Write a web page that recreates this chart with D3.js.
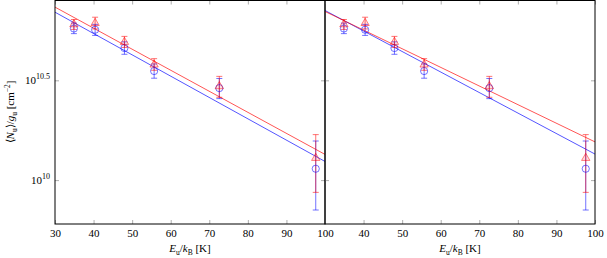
<!DOCTYPE html>
<html>
<head>
<meta charset="utf-8">
<script src="https://cdn.jsdelivr.net/npm/d3@7"></script>
<style>
  body { margin: 0; background: #fff; }
  svg { display: block; }
</style>
</head>
<body>
<svg id="chart"></svg>
<script>
// energies of the upper levels (K)
const energies = [34.9, 40.4, 48.0, 55.7, 72.6, 97.6];

// blue series (circles): value, lower bound, upper bound
const blueVals = [5.75e10, 5.67e10, 4.59e10, 3.52e10, 2.89e10, 1.14e10];
const blueLow  = [5.42e10, 5.31e10, 4.27e10, 3.24e10, 2.56e10, 7.08e9];
const blueHigh = [6.12e10, 6.03e10, 4.93e10, 3.82e10, 3.23e10, 1.57e10];

// red series (triangles)
const redVals = [6.03e10, 6.12e10, 4.92e10, 3.79e10, 2.95e10, 1.29e10];
const redLow  = [5.69e10, 5.72e10, 4.62e10, 3.55e10, 2.60e10, 8.68e9];
const redHigh = [6.38e10, 6.55e10, 5.25e10, 4.06e10, 3.31e10, 1.69e10];

// fitted lines, [energy, value] at both ends of each panel
const fitLeftRed   = [[30, 7.36e10], [100, 1.345e10]];
const fitLeftBlue  = [[30, 6.94e10], [100, 1.24e10]];
const fitRightRed  = [[30, 7.00e10], [100, 1.554e10]];
const fitRightBlue = [[30, 7.08e10], [100, 1.35e10]];

const xTicks = [30, 40, 50, 60, 70, 80, 90, 100];
const yTicks = [{ v: 1e10, exp: "10" }, { v: Math.pow(10, 10.5), exp: "10.5" }];

const width = 607, height = 258;
const plotTop = 0.5, plotBottom = 224;
const blue = "#0000ff", red = "#ff0000";
const serif = "Liberation Serif";

const svg = d3.select("#chart")
    .attr("width", width).attr("height", height)
    .attr("font-family", serif);

const y = d3.scaleLog()
    .domain([Math.pow(10, 9.78), Math.pow(10, 10.9)])
    .range([plotBottom, plotTop]);

function drawPanel(x0, x1, fitRed, fitBlue, showYLabels, id) {
    const x = d3.scaleLinear().domain([30, 100]).range([x0, x1]);
    const g = svg.append("g");

    svg.append("defs").append("clipPath").attr("id", "clip" + id)
        .append("rect")
        .attr("x", x0).attr("y", plotTop)
        .attr("width", x1 - x0).attr("height", plotBottom - plotTop);

    // the right panel leaves out its first label, it would sit on the "100" of the left one
    const fmt = d => (!showYLabels && d === 30) ? "" : d3.format("d")(d);

    // ticks (inward, bottom and top)
    const xb = g.append("g")
        .attr("transform", "translate(0," + plotBottom + ")")
        .call(d3.axisBottom(x).tickValues(xTicks).tickSize(-4).tickPadding(5).tickFormat(fmt));
    const xt = g.append("g")
        .attr("transform", "translate(0," + plotTop + ")")
        .call(d3.axisTop(x).tickValues(xTicks).tickSize(-4).tickFormat(""));
    const yl = g.append("g")
        .attr("transform", "translate(" + x0 + ",0)")
        .call(d3.axisLeft(y).tickValues(yTicks.map(d => d.v)).tickSize(-4).tickFormat(""));
    const yr = g.append("g")
        .attr("transform", "translate(" + x1 + ",0)")
        .call(d3.axisRight(y).tickValues(yTicks.map(d => d.v)).tickSize(-4).tickFormat(""));
    [xb, xt, yl, yr].forEach(a => {
        a.attr("font-family", serif);
        a.select(".domain").remove();
        a.selectAll(".tick line").attr("stroke", "#999").attr("stroke-width", 0.8);
    });
    xb.selectAll(".tick text")
        .attr("font-family", serif)
        .attr("font-size", 11).attr("fill", "#000");

    if (showYLabels) {
        yTicks.forEach(t => {
            const txt = g.append("text")
                .attr("x", x0 - 5).attr("y", y(t.v) + 4)
                .attr("text-anchor", "end")
                .attr("font-family", serif)
                .attr("font-size", 11);
            txt.append("tspan").text("10");
            txt.append("tspan").attr("font-size", 8).attr("dy", -5).text(t.exp);
        });
    }

    const plot = g.append("g").attr("clip-path", "url(#clip" + id + ")");
    const line = d3.line().x(d => x(d[0])).y(d => y(d[1]));

    plot.append("path").datum(fitBlue).attr("d", line)
        .attr("fill", "none").attr("stroke", blue).attr("stroke-width", 0.9).attr("stroke-opacity", 0.75);
    plot.append("path").datum(fitRed).attr("d", line)
        .attr("fill", "none").attr("stroke", red).attr("stroke-width", 0.9).attr("stroke-opacity", 0.75);

    function errorBars(lo, hi, color) {
        const eg = plot.append("g").attr("stroke", color).attr("stroke-opacity", 0.55).attr("stroke-width", 1);
        energies.forEach((e, i) => {
            const cx = x(e);
            eg.append("line").attr("x1", cx).attr("x2", cx).attr("y1", y(lo[i])).attr("y2", y(hi[i]));
            eg.append("line").attr("x1", cx - 3).attr("x2", cx + 3).attr("y1", y(lo[i])).attr("y2", y(lo[i]));
            eg.append("line").attr("x1", cx - 3).attr("x2", cx + 3).attr("y1", y(hi[i])).attr("y2", y(hi[i]));
        });
    }
    errorBars(blueLow, blueHigh, blue);
    errorBars(redLow, redHigh, red);

    plot.selectAll(".circ").data(energies).join("circle")
        .attr("cx", d => x(d)).attr("cy", (d, i) => y(blueVals[i]))
        .attr("r", 3.6)
        .attr("fill", "none").attr("stroke", blue).attr("stroke-opacity", 0.6).attr("stroke-width", 0.9);

    const tri = d3.symbol().type(d3.symbolTriangle).size(30);
    plot.selectAll(".tri").data(energies).join("path")
        .attr("d", tri)
        .attr("transform", (d, i) => "translate(" + x(d) + "," + y(redVals[i]) + ")")
        .attr("fill", red).attr("fill-opacity", 0.12)
        .attr("stroke", red).attr("stroke-opacity", 0.55).attr("stroke-width", 0.9);

    // frame
    g.append("rect")
        .attr("x", x0).attr("y", plotTop)
        .attr("width", x1 - x0).attr("height", plotBottom - plotTop)
        .attr("fill", "none").attr("stroke", "#000").attr("stroke-width", 1);

    // x label
    const xl = g.append("text")
        .attr("x", (x0 + x1) / 2).attr("y", 252)
        .attr("text-anchor", "middle")
        .attr("font-family", serif).attr("font-size", 11);
    xl.append("tspan").attr("font-style", "italic").text("E");
    xl.append("tspan").attr("font-size", 7.5).attr("dy", 2.5).text("u");
    xl.append("tspan").attr("dy", -2.5).text("/");
    xl.append("tspan").attr("font-style", "italic").text("k");
    xl.append("tspan").attr("font-size", 7.5).attr("dy", 2.5).text("B");
    xl.append("tspan").attr("dy", -2.5).text(" [K]");
}

drawPanel(55, 325, fitLeftRed, fitLeftBlue, true, "L");
drawPanel(325, 595, fitRightRed, fitRightBlue, false, "R");

// y label
const ylab = svg.append("text")
    .attr("transform", "translate(14,112) rotate(-90)")
    .attr("text-anchor", "middle")
    .attr("font-family", serif).attr("font-size", 11);
ylab.append("tspan").text("\u27E8");
ylab.append("tspan").attr("font-style", "italic").text("N");
ylab.append("tspan").attr("font-size", 7.5).attr("dy", 2.5).text("u");
ylab.append("tspan").attr("dy", -2.5).text("\u27E9/");
ylab.append("tspan").attr("font-style", "italic").text("g");
ylab.append("tspan").attr("font-size", 7.5).attr("dy", 2.5).text("u");
ylab.append("tspan").attr("dy", -2.5).text(" [cm");
ylab.append("tspan").attr("font-size", 7.5).attr("dy", -4).text("\u22122");
ylab.append("tspan").attr("dy", 4).text("]");
</script>
</body>
</html>
